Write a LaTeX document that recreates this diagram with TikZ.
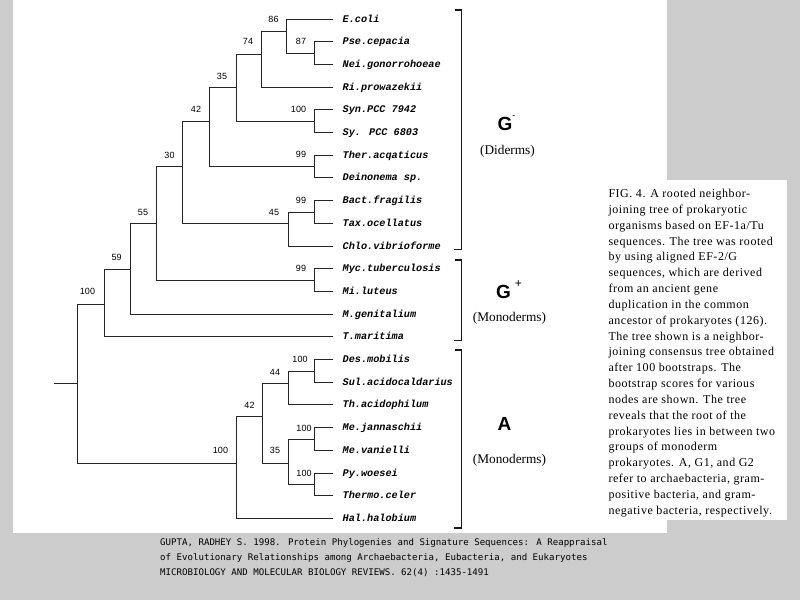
\documentclass[tikz,border=0pt]{standalone}
\usepackage{fontspec}
\setmainfont{Liberation Serif}
\newfontfamily\leaffamily{Liberation Mono}
\newfontfamily\bootfamily{Liberation Sans}
\newfontfamily\citefamily{DejaVu Sans Mono}
\newfontfamily\capfamily[LetterSpace=4.5]{Liberation Serif}
\newfontfamily\grpfamily{Liberation Sans}
\definecolor{bg}{RGB}{204,204,204}
\newcommand\clade[3]{\draw[branch] (#2) -- (#1 |- #2) -- (#1 |- #3) -- (#3);}
\tikzset{
  branch/.style={draw=black!85, line width=0.9pt},
  bracket/.style={draw=black!90, line width=1.1pt},
  leaflabel/.style={anchor=base west, inner sep=0pt, font=\leaffamily\bfseries\itshape\fontsize{10.2}{12}\selectfont},
  boot/.style={inner sep=0pt, font=\bootfamily\fontsize{9}{10}\selectfont},
  grp/.style={anchor=base west, inner sep=0pt, font=\grpfamily\bfseries\fontsize{19}{20}\selectfont},
  grpsub/.style={inner sep=0pt, font=\fontsize{13.3}{14}\selectfont},
  capline/.style={anchor=base west, inner sep=0pt, font=\capfamily\fontsize{12}{14}\selectfont},
  citeline/.style={anchor=base west, inner sep=0pt, font=\citefamily\fontsize{9.1}{11}\selectfont}
}
\begin{document}
\begin{tikzpicture}[x=1pt, y=-1pt]
\useasboundingbox (0,0) rectangle (800,600);
\fill[bg] (0,0) rectangle (800,600);
\fill[white] (13,0) rectangle (667,533);
\fill[white] (590,180) rectangle (787,520);

% leaves
\foreach \i/\t in {1/E.coli, 2/Pse.cepacia, 3/Nei.gonorrohoeae, 4/Ri.prowazekii,
  5/Syn.PCC 7942, 6/Sy. PCC 6803, 7/Ther.acqaticus, 8/Deinonema sp.,
  9/Bact.fragilis, 10/Tax.ocellatus, 11/Chlo.vibrioforme, 12/Myc.tuberculosis,
  13/Mi.luteus, 14/M.genitalium, 15/T.maritima, 16/Des.mobilis,
  17/Sul.acidocaldarius, 18/Th.acidophilum, 19/Me.jannaschii, 20/Me.vanielli,
  21/Py.woesei, 22/Thermo.celer, 23/Hal.halobium}{
  \coordinate (L\i) at (332.7, {19+22.7*(\i-1)});
  \node[leaflabel] (T\i) at (342.5, {22+22.7*(\i-1)}) {\t};
}

% internal nodes (x, attachment height)
\coordinate (n87) at (314,53);
\coordinate (n86) at (286.7,31);
\coordinate (n74) at (261.7,54);
\coordinate (s100) at (314,121.2);
\coordinate (n35) at (236,87.7);
\coordinate (t99) at (314,166.5);
\coordinate (n42) at (209.3,121.7);
\coordinate (b99) at (314.3,212);
\coordinate (n45) at (288.3,223.3);
\coordinate (n30) at (182.7,166.7);
\coordinate (m99) at (314,280);
\coordinate (n55) at (156.7,223.3);
\coordinate (n59) at (130,269.3);
\coordinate (g100) at (104,304);
\coordinate (d100) at (314.5,371);
\coordinate (n44) at (288.3,383.3);
\coordinate (j100) at (314.5,439);
\coordinate (p100) at (314.5,484.4);
\coordinate (n35b) at (288.3,463.3);
\coordinate (n42b) at (262.7,416.7);
\coordinate (a100) at (236.7,463.3);
\coordinate (root) at (77.3,383.3);
\coordinate (stub) at (54,383.3);

\clade{n87}{L2}{L3}
\clade{n86}{L1}{n87}
\clade{n74}{n86}{L4}
\clade{s100}{L5}{L6}
\clade{n35}{n74}{s100}
\clade{t99}{L7}{L8}
\clade{n42}{n35}{t99}
\clade{b99}{L9}{L10}
\clade{n45}{b99}{L11}
\clade{n30}{n42}{n45}
\clade{m99}{L12}{L13}
\clade{n55}{n30}{m99}
\clade{n59}{n55}{L14}
\clade{g100}{n59}{L15}
\clade{d100}{L16}{L17}
\clade{n44}{d100}{L18}
\clade{j100}{L19}{L20}
\clade{p100}{L21}{L22}
\clade{n35b}{j100}{p100}
\clade{n42b}{n44}{n35b}
\clade{a100}{n42b}{L23}
\clade{root}{g100}{a100}
\draw[branch] (stub) -- (root);

% bootstrap values
\node[boot] (bs86) at (273.5,19) {86};
\node[boot] (bs87) at (301,41.7) {87};
\node[boot] (bs74) at (248,41.7) {74};
\node[boot] (bs35) at (222,76) {35};
\node[boot] (bs42) at (196,109) {42};
\node[boot] (bs30) at (169.5,155) {30};
\node[boot] (bs100s) at (298.5,109) {100};
\node[boot] (bs99t) at (301,154.7) {99};
\node[boot] (bs99b) at (301,200) {99};
\node[boot] (bs45) at (274,212.3) {45};
\node[boot] (bs99m) at (301,268.3) {99};
\node[boot] (bs55) at (143,212.3) {55};
\node[boot] (bs59) at (116.7,257.3) {59};
\node[boot] (bs100g) at (87.5,291) {100};
\node[boot] (bs100a) at (220.5,450) {100};
\node[boot] (bs42b) at (249.5,405.7) {42};
\node[boot] (bs100d) at (300,359.5) {100};
\node[boot] (bs44) at (275,372.5) {44};
\node[boot] (bs100j) at (304,428) {100};
\node[boot] (bs35b) at (275,450.5) {35};
\node[boot] (bs100p) at (304,473.3) {100};

% group brackets
\draw[bracket] (455,10) -- (461.7,10) -- (461.7,249.3) -- (454,249.3);
\draw[bracket] (455,260) -- (461.7,260) -- (461.7,340.5) -- (454,340.5);
\draw[bracket] (455,350) -- (461.7,350) -- (461.7,528) -- (454,528);

% group labels
\node[grp] (gneg) at (497.5,130) {G\raisebox{11.5pt}{\fontsize{9}{9}\selectfont\mdseries -}};
\node[grpsub] (dider) at (507.5,151.7) {(Diderms)};
\node[grp] (gpos) at (496,298.3) {G\hspace{4pt}\raisebox{11pt}{\fontsize{12}{12}\selectfont\mdseries +}};
\node[grpsub] (mono1) at (509.5,318.3) {(Monoderms)};
\node[grp] (garch) at (497.5,430) {A};
\node[grpsub] (mono2) at (509.5,460) {(Monoderms)};

% caption
\foreach \i/\t in {1/{FIG. 4. A rooted neighbor-}, 2/{joining tree of prokaryotic},
  3/{organisms based on EF-1a/Tu}, 4/{sequences. The tree was rooted},
  5/{by using aligned EF-2/G}, 6/{sequences, which are derived},
  7/{from an ancient gene}, 8/{duplication in the common},
  9/{ancestor of prokaryotes (126).}, 10/{The tree shown is a neighbor-},
  11/{joining consensus tree obtained}, 12/{after 100 bootstraps. The},
  13/{bootstrap scores for various}, 14/{nodes are shown. The tree},
  15/{reveals that the root of the}, 16/{prokaryotes lies in between two},
  17/{groups of monoderm}, 18/{prokaryotes. A, G1, and G2},
  19/{refer to archaebacteria, gram-}, 20/{positive bacteria, and gram-},
  21/{negative bacteria, respectively.}}{
  \node[capline] (C\i) at (608.3, {197.5+15.84*(\i-1)}) {\t};
}

% citation
\node[citeline] (cite1) at (160,545) {GUPTA, RADHEY S. 1998. Protein Phylogenies and Signature Sequences: A Reappraisal};
\node[citeline] (cite2) at (160,560) {of Evolutionary Relationships among Archaebacteria, Eubacteria, and Eukaryotes};
\node[citeline] (cite3) at (160,575) {MICROBIOLOGY AND MOLECULAR BIOLOGY REVIEWS. 62(4) :1435-1491};
\end{tikzpicture}
\end{document}
